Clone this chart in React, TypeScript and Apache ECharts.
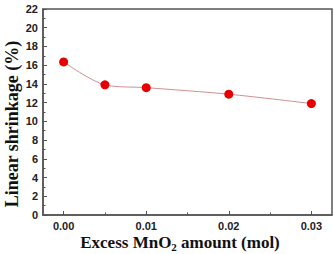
import React, { useEffect, useRef } from "react";
import * as echarts from "echarts";

const xValues = [0.0, 0.005, 0.01, 0.02, 0.03];
const shrinkage = [16.35, 13.9, 13.6, 12.9, 11.9];
const xMajorTicks = [0, 0.01, 0.02, 0.03];
const xMinorTicks = [0.005, 0.015, 0.025];
const yTitle = "Linear shrinkage (%)";
const xTitle = "{b|Excess MnO}{s|2}{b| amount (mol)}";

export default function App() {
  const ref = useRef<HTMLDivElement>(null);
  useEffect(() => {
    const chart = echarts.init(ref.current!, null, { renderer: "svg" });
    const axisColor = "#555";
    const labelStyle = { fontFamily: "Liberation Sans, Arial", fontWeight: "bold" as const, fontSize: 11, color: "#222" };
    const serif = "Liberation Serif, Times New Roman";
    chart.setOption({
      animation: false,
      backgroundColor: "#fff",
      grid: {
        left: 43, right: 2, top: 9, bottom: 39,
        outerBoundsMode: "none",
        containLabel: false,
        show: true, borderColor: axisColor, borderWidth: 1.5, backgroundColor: "transparent",
      },
      graphic: [
        {
          type: "text",
          x: 12,
          y: 124,
          rotation: Math.PI / 2,
          style: { text: yTitle, font: `bold 18px ${serif}`, fill: "#111", align: "center", verticalAlign: "middle" },
        },
        {
          type: "text",
          x: 180,
          y: 242,
          style: {
            text: xTitle,
            align: "center",
            verticalAlign: "middle",
            rich: {
              b: { fontFamily: serif, fontWeight: "bold", fontSize: 17, fill: "#111" },
              s: { fontFamily: serif, fontWeight: "bold", fontSize: 11, fill: "#111", verticalAlign: "bottom", padding: [10, 0, 0, 0] },
            },
          },
        },
      ],
      xAxis: [
        {
          type: "value",
          min: -0.0025,
          max: 0.0325,
          axisLine: { show: true, onZero: false, lineStyle: { color: axisColor, width: 1.5 } },
          splitLine: { show: false },
          axisTick: { show: true, inside: true, length: 4, customValues: xMajorTicks, lineStyle: { color: axisColor } },
          axisLabel: { ...labelStyle, margin: 5, customValues: xMajorTicks, formatter: (v: number) => v.toFixed(2) },
        },
        {
          type: "value",
          position: "bottom",
          min: -0.0025,
          max: 0.0325,
          axisLine: { show: false, onZero: false },
          splitLine: { show: false },
          axisTick: { show: true, inside: true, length: 2.5, customValues: xMinorTicks, lineStyle: { color: axisColor } },
          axisLabel: { show: false },
        },
      ],
      yAxis: {
        type: "value",
        min: 0,
        max: 22,
        interval: 2,
        axisLine: { show: true, onZero: false, lineStyle: { color: axisColor, width: 1.5 } },
        splitLine: { show: false },
        axisTick: { show: true, inside: true, length: 4, lineStyle: { color: axisColor } },
        minorTick: { show: true, splitNumber: 2, length: 2.5, lineStyle: { color: axisColor } },
        axisLabel: { ...labelStyle, margin: 5 },
      },
      series: [
        {
          type: "line",
          data: xValues.map((x, i) => [x, shrinkage[i]]),
          smooth: 0.3,
          symbol: "circle",
          symbolSize: 9,
          itemStyle: { color: "#e80000" },
          lineStyle: { color: "#d09090", width: 1 },
        },
      ],
    });
    return () => chart.dispose();
  }, []);
  return <div ref={ref} style={{ width: 334, height: 254, position: "absolute", left: 0, top: 0 }} />;
}
